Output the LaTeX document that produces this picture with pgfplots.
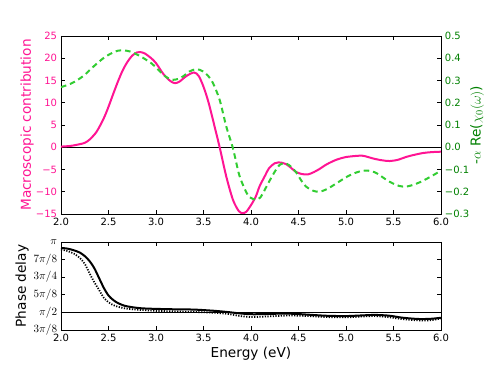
\documentclass[border=0pt]{standalone}
\usepackage{pgfplots}
\pgfplotsset{compat=1.18}
\usepackage{fontspec}
\setmainfont{DejaVu Sans}
\definecolor{dpink}{RGB}{255,20,147}
\definecolor{lgreen}{RGB}{50,205,50}
\definecolor{dgreen}{RGB}{0,128,0}

\begin{document}
\begin{tikzpicture}
\useasboundingbox (-54.9pt,32.4pt) rectangle (387pt,-298.8pt);
\pgfplotsset{
  every axis/.append style={
    scale only axis, width=342pt, xmin=2, xmax=6,
    tick align=inside, major tick length=4pt,
    axis line style={line width=0.8pt},
    every tick/.style={black, line width=0.6pt},
    tick label style={font=\fontsize{9}{10}\selectfont},
    label style={font=\fontsize{12.3}{14}\selectfont},
    xtick={2,2.5,3,3.5,4,4.5,5,5.5,6},
    xticklabels={2.0,2.5,3.0,3.5,4.0,4.5,5.0,5.5,6.0},
  },
}

% top: macroscopic contribution (left axis)
\begin{axis}[
  at={(0,0)}, anchor=north west, height=160.2pt,
  ymin=-15, ymax=25,
  ytick={-15,-10,-5,0,5,10,15,20,25},
  yticklabels={−15,−10,−5,0,5,10,15,20,25},
  ytick pos=left, xtick pos=both,
  yticklabel style={text=dpink},
  ylabel={Macroscopic contribution},
  ylabel style={text=dpink, at={(axis description cs:-0.0895,0.5)}, anchor=center},
]
\addplot[black, line width=0.8pt] coordinates {(2,0) (6,0)};
\addplot[dpink, line width=1.8pt, smooth] coordinates {
  (2.0,0.15) (2.1,0.3) (2.2,0.7) (2.25,1.0) (2.3,1.7) (2.375,3.5)
  (2.45,6.5) (2.5,9.1) (2.55,12.0) (2.6,14.8) (2.65,17.3) (2.7,19.2)
  (2.75,20.6) (2.8,21.3) (2.83,21.4) (2.88,21.1) (2.95,20.0) (3.0,18.9)
  (3.08,16.4) (3.15,14.9) (3.2,14.4) (3.25,14.8) (3.32,16.0) (3.4,16.8)
  (3.45,16.0) (3.5,13.6) (3.55,10.3) (3.6,6.1) (3.67,0) (3.74,-6.6)
  (3.81,-11.8) (3.87,-14.3) (3.91,-14.8) (3.95,-14.5) (4.0,-13.0)
  (4.05,-11.1) (4.09,-8.8) (4.15,-6.3) (4.19,-4.7) (4.25,-3.6)
  (4.29,-3.4) (4.33,-3.5) (4.37,-3.8) (4.42,-4.6) (4.47,-5.5)
  (4.53,-6.0) (4.6,-6.1) (4.66,-5.6) (4.72,-4.9) (4.8,-3.8)
  (4.9,-2.8) (5.0,-2.2) (5.14,-1.9) (5.2,-2.0) (5.28,-2.5)
  (5.37,-2.9) (5.46,-3.1) (5.55,-2.8) (5.63,-2.2) (5.72,-1.7)
  (5.81,-1.3) (5.9,-1.1) (6.0,-1.0)
};
\end{axis}

% top: -alpha Re(chi0) (right axis)
\begin{axis}[
  at={(0,0)}, anchor=north west, height=160.2pt,
  ymin=-0.3, ymax=0.5,
  axis x line=none, axis y line*=right, tick align=inside,
  ytick={-0.3,-0.2,-0.1,0,0.1,0.2,0.3,0.4,0.5},
  yticklabels={−0.3,−0.2,−0.1,0.0,0.1,0.2,0.3,0.4,0.5},
  yticklabel style={text=dgreen},
  ylabel={-$\alpha$ Re($\chi_0(\omega)$)},
  ylabel style={text=dgreen, at={(axis description cs:1.0947,0.5)}, anchor=center},
]
\addplot[lgreen, line width=1.8pt, smooth, dash pattern=on 5pt off 3.5pt] coordinates {
  (2.0,0.27) (2.1,0.285) (2.165,0.30) (2.25,0.325) (2.305,0.348)
  (2.375,0.375) (2.445,0.40) (2.52,0.42) (2.6,0.434) (2.66,0.435)
  (2.73,0.43) (2.83,0.41) (2.95,0.378) (3.02,0.35) (3.08,0.325)
  (3.13,0.31) (3.18,0.303) (3.24,0.308) (3.29,0.32) (3.35,0.34)
  (3.41,0.35) (3.46,0.348) (3.5,0.34) (3.55,0.32) (3.6,0.288)
  (3.67,0.213) (3.74,0.093) (3.81,-0.005) (3.88,-0.13) (3.96,-0.21)
  (4.0,-0.228) (4.05,-0.235) (4.1,-0.225) (4.19,-0.155) (4.25,-0.11)
  (4.3,-0.08) (4.35,-0.072) (4.4,-0.08) (4.47,-0.11) (4.53,-0.15)
  (4.58,-0.177) (4.65,-0.195) (4.72,-0.2) (4.8,-0.188) (4.9,-0.162)
  (5.0,-0.135) (5.07,-0.12) (5.15,-0.108) (5.23,-0.105) (5.3,-0.112)
  (5.35,-0.124) (5.42,-0.145) (5.49,-0.162) (5.56,-0.174) (5.63,-0.177)
  (5.7,-0.17) (5.79,-0.155) (5.9,-0.13) (6.0,-0.105)
};
\end{axis}

% bottom: phase delay (y in units of pi)
\begin{axis}[
  at={(0,-185.4pt)}, anchor=north west, height=79.2pt,
  ymin=0.375, ymax=1,
  ytick={0.375,0.5,0.625,0.75,0.875,1},
  yticklabels={$3\pi/8$,$\pi/2$,$5\pi/8$,$3\pi/4$,$7\pi/8$,$\pi$},
  yticklabel style={font=\fontsize{10}{11}\selectfont},
  xtick pos=both, ytick pos=both,
  xlabel={Energy (eV)}, ylabel={Phase delay},
  ylabel style={at={(axis description cs:-0.1026,0.5)}, anchor=center},
  xlabel style={at={(axis description cs:0.5,-0.273)}, anchor=center},
]
\addplot[black, line width=0.8pt] coordinates {(2,0.5) (6,0.5)};
\addplot[black, line width=1.8pt, smooth] coordinates {
  (2.0,0.957) (2.05,0.955) (2.1,0.948) (2.15,0.938) (2.2,0.924)
  (2.25,0.90) (2.3,0.865) (2.35,0.815) (2.4,0.745) (2.45,0.675)
  (2.5,0.62) (2.55,0.588) (2.6,0.566) (2.67,0.547) (2.75,0.537)
  (2.85,0.529) (3.0,0.525) (3.2,0.522) (3.4,0.52) (3.6,0.512)
  (3.75,0.503) (3.88,0.493) (4.0,0.487) (4.15,0.488) (4.3,0.491)
  (4.45,0.490) (4.6,0.484) (4.8,0.476) (5.0,0.474) (5.15,0.478)
  (5.3,0.482) (5.45,0.477) (5.6,0.462) (5.77,0.453) (5.9,0.455)
  (6.0,0.462)
};
\addplot[black, line width=1.6pt, smooth, dash pattern=on 1.1pt off 1.3pt] coordinates {
  (2.0,0.945) (2.05,0.94) (2.1,0.928) (2.15,0.912) (2.2,0.885)
  (2.25,0.845) (2.3,0.778) (2.35,0.715) (2.4,0.66) (2.45,0.605)
  (2.5,0.572) (2.55,0.552) (2.6,0.54) (2.67,0.529) (2.75,0.522)
  (2.85,0.517) (3.0,0.511) (3.2,0.507) (3.4,0.503) (3.6,0.498)
  (3.75,0.49) (3.88,0.475) (4.0,0.467) (4.2,0.472) (4.4,0.478)
  (4.6,0.474) (4.8,0.467) (5.0,0.465) (5.15,0.47) (5.3,0.474)
  (5.45,0.466) (5.6,0.452) (5.8,0.442) (5.92,0.447) (6.0,0.457)
};
\end{axis}
\end{tikzpicture}
\end{document}
